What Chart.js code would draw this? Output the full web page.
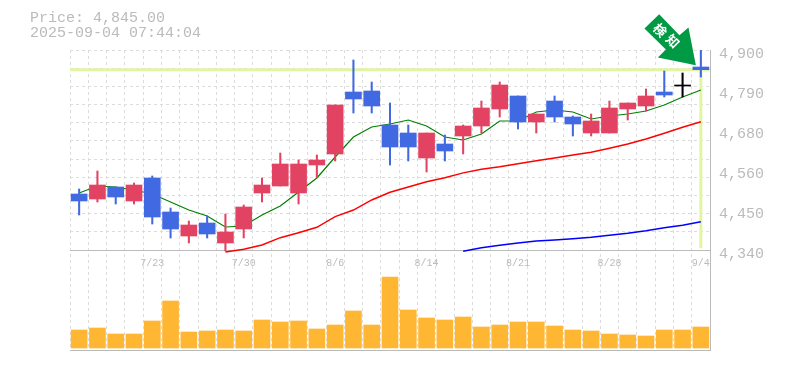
<!DOCTYPE html>
<html>
<head>
<meta charset="utf-8">
<style>
html,body{margin:0;padding:0;background:#fff;width:785px;height:370px;overflow:hidden}
#head{position:absolute;left:30px;top:11px;font:15px/15px "Liberation Mono",monospace;color:#bbb;white-space:pre}
canvas{position:absolute;left:0;top:0}
</style>
<script src="https://cdn.jsdelivr.net/npm/chart.js@4"></script>
</head>
<body>
<canvas id="c" width="785" height="370"></canvas>
<div id="head">Price: 4,845.00
2025-09-04 07:44:04</div>
<script>
const dates = ['7/16','7/17','7/18','7/22','7/23','7/24','7/25','7/28','7/29','7/30','7/31','8/1','8/4','8/5','8/6','8/7','8/8','8/12','8/13','8/14','8/15','8/18','8/19','8/20','8/21','8/22','8/25','8/26','8/27','8/28','8/29','9/1','9/2','9/3','9/4'];
const xTickLabels = ['7/23','7/30','8/6','8/14','8/21','8/28','9/4'];
const priceTicks = [4900,4788,4676,4564,4452,4340];
const lastPrice = 4845;
const opens  = [4496.8,4482.8,4516.4,4477.2,4541.6,4446.4,4379.2,4415.6,4359.6,4398.8,4499.6,4519.2,4499.6,4578,4608.8,4782.4,4785.2,4690,4667.6,4597.6,4636.8,4659.2,4687.2,4734.8,4771.2,4698.4,4757.2,4712.4,4667.6,4667.6,4734.8,4743.2,4782.4,4802,4852.4];
const highs  = [4510.8,4561.2,4516.4,4527.6,4547.2,4457.6,4421.2,4435.2,4440.8,4466,4541.6,4611.6,4592,4606,4746,4872,4810.4,4751.6,4690,4667.6,4662,4690,4757.2,4810.4,4771.2,4720.8,4771.2,4715.2,4720.8,4757.2,4751.6,4790.8,4841.2,4835.6,4900];
const lows   = [4438,4474.4,4468.8,4468.8,4412.8,4373.6,4359.6,4373.6,4337.2,4373.6,4474.4,4519.2,4468.8,4541.6,4589.2,4723.6,4723.6,4578,4589.2,4558.4,4589.2,4608.8,4667.6,4712.4,4678.8,4667.6,4698.4,4659.2,4659.2,4667.6,4704,4729.2,4768.4,4768.4,4824.4];
const closes = [4477.2,4522,4488.4,4522,4432.4,4398.8,4410,4384.8,4390.4,4460.4,4522,4580.8,4580.8,4592,4746,4762.8,4743.2,4628.4,4628.4,4667.6,4617.2,4687.2,4737.6,4802,4698.4,4720.8,4712.4,4692.8,4701.2,4737.6,4751.6,4771.2,4774,4799.2,4845];
const ma5  = [4499.6,4519.2,4516.4,4508,4496.8,4474.4,4452,4435.2,4404.4,4407.2,4438,4463.2,4502.4,4541.6,4600.4,4656.4,4684.4,4692.8,4704,4687.2,4656.4,4648,4664.8,4701.2,4701.2,4726.4,4732,4726.4,4706.8,4715.2,4720.8,4729.2,4746,4768.4,4788];
const ma25 = [null,null,null,null,null,null,null,null,4334.4,4342,4354,4374.4,4388.4,4403.6,4433.2,4452,4480,4501.6,4516.4,4531.2,4542.4,4556,4566,4573.2,4581.6,4590,4597.6,4606,4613.6,4624.8,4636.8,4650.8,4666.8,4683.6,4699.2];
const ma75 = [null,null,null,null,null,null,null,null,null,null,null,null,null,null,null,null,null,null,null,null,null,4336.4,4346.4,4353.2,4359.6,4365.2,4368,4371.6,4375.6,4381.2,4386.8,4394,4402.4,4409.2,4419.2];
const volumes = [1800,2000,1400,1400,2700,4700,1600,1700,1800,1700,2800,2600,2700,1900,2300,3700,2300,7100,3800,3000,2800,3100,2100,2300,2600,2600,2200,1800,1700,1400,1300,1200,1800,1800,2100];
const arrowLabel = ['検','知'];

const UP='#e24362', DOWN='#4169e1', FLAT='#000000', TEXT='#bbbbbb', GRID='#dcdcdc', LEVEL='#e2f5a3';
const candleColors = closes.map((c,i)=> Math.abs(c-opens[i])<3 ? FLAT : (c>opens[i]?UP:DOWN));

const arrowPlugin = {
  id:'arrow',
  afterDatasetsDraw(chart){
    const ctx=chart.ctx, tx=chart.scales.x.getPixelForValue(34)-5, ty=chart.scales.y.getPixelForValue(lastPrice)-4.5;
    const shape=[[-36.7,-51],[-16.4,-30],[-7.4,-37.7],[0,0],[-38,-7.7],[-30,-15.7],[-51.4,-36.7]];
    ctx.save();
    ctx.fillStyle='#009944';
    ctx.beginPath();
    shape.forEach((p,i)=> i? ctx.lineTo(tx+p[0],ty+p[1]) : ctx.moveTo(tx+p[0],ty+p[1]));
    ctx.closePath(); ctx.fill();
    ctx.fillStyle='#ffffff';
    ctx.font='bold 13px "Noto Sans CJK JP"';
    ctx.textAlign='center'; ctx.textBaseline='middle';
    [[-35.7,-35],[-23,-24]].forEach((p,i)=>{
      ctx.save(); ctx.translate(tx+p[0],ty+p[1]); ctx.rotate(Math.PI/4);
      ctx.fillText(arrowLabel[i],0,0); ctx.restore();
    });
    ctx.restore();
  }
};

new Chart(document.getElementById('c'),{
  type:'bar',
  plugins:[arrowPlugin],
  data:{
    labels:dates,
    datasets:[
      {type:'line',label:'level',xAxisID:'x2',yAxisID:'y',data:[{x:0,y:lastPrice},{x:35,y:lastPrice}],borderColor:LEVEL,borderWidth:3,pointRadius:0,order:9},
      {type:'line',label:'levelDrop',xAxisID:'x2',yAxisID:'y',data:[{x:34.5,y:lastPrice},{x:34.5,y:4345}],borderColor:LEVEL,borderWidth:3,pointRadius:0,order:9},
      {type:'line',label:'MA5',yAxisID:'y',data:ma5,borderColor:'#008000',borderWidth:1.2,pointRadius:0,tension:0,order:5},
      {type:'line',label:'MA25',yAxisID:'y',data:ma25,borderColor:'#ff0000',borderWidth:1.4,pointRadius:0,tension:0,order:5},
      {type:'line',label:'MA75',yAxisID:'y',data:ma75,borderColor:'#0000ff',borderWidth:1.4,pointRadius:0,tension:0,order:5},
      {label:'wick',yAxisID:'y',data:lows.map((l,i)=>[l,highs[i]]),backgroundColor:candleColors,barThickness:1.4,grouped:false,order:2},
      {label:'body',yAxisID:'y',data:opens.map((o,i)=>[o,closes[i]]),backgroundColor:candleColors,barThickness:16,grouped:false,order:1},
      {label:'volume',yAxisID:'yVol',data:volumes,backgroundColor:'#ffb733',barThickness:16,grouped:false,order:1}
    ]
  },
  options:{
    responsive:false,
    animation:false,
    layout:{padding:{left:70,top:50,right:0,bottom:20}},
    plugins:{legend:{display:false},tooltip:{enabled:false},title:{display:false}},
    scales:{
      x:{
        type:'category',
        position:{y:4340},
        offset:true,
        grid:{offset:true,color:GRID,lineWidth:1,drawTicks:false},
        border:{color:TEXT,width:1,dash:[3,3]},
        ticks:{autoSkip:false,maxRotation:0,minRotation:0,padding:7,color:TEXT,font:{family:'"Liberation Mono"',size:10},
          callback(v){const d=this.getLabelForValue(v);return xTickLabels.includes(d)?d:'';}}
      },
      x2:{
        type:'linear',position:'bottom',min:0,max:35,offset:false,
        grid:{display:false,drawTicks:false,offset:false},
        border:{color:TEXT,width:1},
        ticks:{display:false},
        afterFit(s){s.height=0;}
      },
      y:{
        type:'linear',position:'right',min:4060,max:4900,
        grid:{display:false,drawTicks:false},
        border:{color:TEXT,width:1},
        ticks:{color:TEXT,padding:9,labelOffset:4,font:{family:'"Liberation Mono"',size:15},
          callback(v){return (Math.round(v/10)*10).toLocaleString('en-US');}},
        afterBuildTicks(s){s.ticks=priceTicks.map(value=>({value}));},
        afterFit(s){s.width=75;}
      },
      yGrid:{
        type:'linear',position:'right',min:4060,max:4900,
        grid:{color:GRID,lineWidth:1,drawTicks:false},
        border:{display:false,dash:[3,3]},
        ticks:{display:false},
        afterBuildTicks(s){s.ticks=Array.from({length:12},(_,k)=>({value:4900-k*560/11}));},
        afterFit(s){s.width=0;}
      },
      yVol:{
        type:'linear',display:false,min:-200,max:29800
      }
    }
  }
});
</script>
</body>
</html>
